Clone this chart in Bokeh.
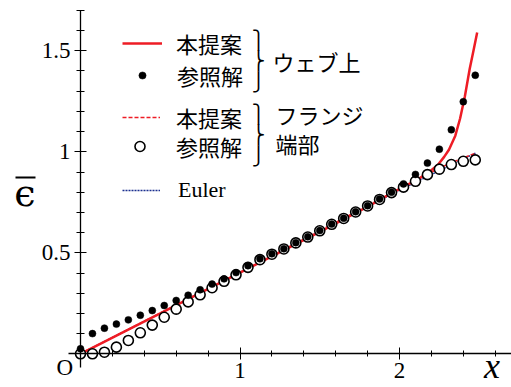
from bokeh.plotting import figure
from bokeh.models import (LinearAxis, FixedTicker, Label, Legend, LegendItem,
                          BoxAnnotation, Range1d)
from bokeh.embed import file_html
from bokeh.resources import INLINE

# ---------------- data ----------------
x_ref = [0.0, 0.075, 0.15, 0.225, 0.3, 0.375, 0.45, 0.525, 0.6, 0.675, 0.75, 0.825,
         0.9, 0.975, 1.05, 1.125, 1.2, 1.275, 1.35, 1.425, 1.5, 1.575, 1.65, 1.725,
         1.8, 1.875, 1.95, 2.025, 2.1, 2.175, 2.25, 2.325, 2.4, 2.475]
web_ref = [0.025, 0.100, 0.127, 0.147, 0.168, 0.191, 0.214, 0.239, 0.264, 0.290,
           0.317, 0.345, 0.371, 0.402, 0.436, 0.470, 0.495, 0.520, 0.550, 0.579,
           0.610, 0.642, 0.671, 0.703, 0.733, 0.766, 0.800, 0.841, 0.888, 0.944,
           1.013, 1.109, 1.248, 1.379]
flange_ref = [0.0, 0.0, 0.008, 0.033, 0.066, 0.104, 0.142, 0.181, 0.221, 0.257,
              0.292, 0.327, 0.359, 0.391, 0.428, 0.466, 0.493, 0.519, 0.549, 0.578,
              0.609, 0.641, 0.670, 0.702, 0.732, 0.764, 0.798, 0.825, 0.854, 0.887,
              0.914, 0.937, 0.953, 0.960]

x_web = [0.0, 0.5, 1.0, 1.5, 1.8, 1.95, 2.04, 2.12, 2.18, 2.24, 2.28, 2.31, 2.35,
         2.38, 2.41, 2.44, 2.465, 2.487]
y_web = [0.0, 0.2, 0.402, 0.604, 0.728, 0.795, 0.833, 0.866, 0.897, 0.935, 0.975,
         1.01, 1.08, 1.165, 1.275, 1.41, 1.505, 1.59]

x_flange = [0.0, 1.0, 1.95, 2.025, 2.1, 2.175, 2.25, 2.325, 2.4, 2.477]
y_flange = [0.0, 0.402, 0.795, 0.826, 0.857, 0.889, 0.919, 0.946, 0.970, 0.993]

x_euler = [0.0, 1.0, 2.0, 2.48]
y_euler = [0.0, 0.402, 0.81, 0.995]

x_ticks = [1, 2]
x_minor = [0.2, 0.4, 0.6, 0.8, 1.2, 1.4, 1.6, 1.8, 2.2, 2.4, 2.6]
y_ticks = [0.5, 1, 1.5]
y_tick_labels = {0.5: "0.5", 1: "1", 1.5: "1.5"}
y_minor = [0.1, 0.2, 0.3, 0.4, 0.6, 0.7, 0.8, 0.9, 1.1, 1.2, 1.3, 1.4, 1.6, 1.7]

legend_labels = ["本提案", "参照解", "本提案", "参照解", "Euler"]
group_labels = ["ウェブ上", "フランジ", "端部"]

RED = "#ee1c25"
BLUE = "#1a2f8f"
SERIF = "Liberation Serif"
CJK = "Noto Sans CJK JP"

W, H = 511, 387
p = figure(width=W, height=H, output_backend="svg", toolbar_location=None,
           x_range=Range1d(-0.5016, 2.7022), y_range=Range1d(-0.1668, 1.749),
           x_axis_location=None, y_axis_location=None, min_border=0,
           outline_line_color=None, background_fill_color="white",
           border_fill_color="white")
p.grid.visible = False

xaxis = LinearAxis(ticker=FixedTicker(ticks=x_ticks, minor_ticks=x_minor),
                   fixed_location=0, bounds=(-0.075, 2.75),
                   major_tick_in=6, major_tick_out=6, minor_tick_in=3, minor_tick_out=3,
                   axis_line_color="black", axis_line_width=1.3,
                   major_tick_line_color="black", minor_tick_line_color="black",
                   major_label_text_font=SERIF, major_label_text_font_size="23px",
                   major_label_text_color="black", major_label_standoff=3)
p.add_layout(xaxis, "below")

yaxis = LinearAxis(ticker=FixedTicker(ticks=y_ticks, minor_ticks=y_minor),
                   fixed_location=0, bounds=(-0.066, 1.7),
                   major_tick_in=6, major_tick_out=6, minor_tick_in=4, minor_tick_out=4,
                   axis_line_color="black", axis_line_width=1.3,
                   major_tick_line_color="black", minor_tick_line_color="black",
                   major_label_text_font=SERIF, major_label_text_font_size="23px",
                   major_label_text_color="black", major_label_standoff=4,
                   major_label_overrides=y_tick_labels)
p.add_layout(yaxis, "left")

r_euler = p.line(x_euler, y_euler, line_color=BLUE, line_width=1.4, line_dash="2 1")
r_flange = p.line(x_flange, y_flange, line_color=RED, line_width=1.6, line_dash="4 2")
r_web = p.line(x_web, y_web, line_color=RED, line_width=2.5)
r_fref = p.scatter(x_ref, flange_ref, size=10, marker="circle", fill_color="white",
                   line_color="black", line_width=1.6)
r_wref = p.scatter(x_ref, web_ref, size=7, marker="circle", fill_color="black",
                   line_color="black", line_width=0.5)


def add_legend(label, rend, left, cy, gw, standoff, font):
    lg = Legend(items=[LegendItem(label=label, renderers=[rend])],
                location=(left, 367 - cy), padding=0, margin=0, spacing=0,
                border_line_color=None, background_fill_alpha=0,
                glyph_width=gw, glyph_height=40, label_height=40, label_width=10,
                label_standoff=standoff, label_text_font=font,
                label_text_font_size="22px", label_text_color="black")
    p.add_layout(lg)


add_legend(legend_labels[0], r_web, 122, 43, 40, 14, CJK)
add_legend(legend_labels[1], r_wref, 133, 75, 18, 26, CJK)
add_legend(legend_labels[2], r_flange, 122, 117, 38, 16, CJK)
add_legend(legend_labels[3], r_fref, 127, 146, 25, 24, CJK)
add_legend(legend_labels[4], r_euler, 122, 190, 38, 18, SERIF)


def add_label(text, px, py, font, size, align="left", baseline="middle",
              style="normal", line_height=1.2):
    p.add_layout(Label(x=px, y=H - py, x_units="screen", y_units="screen", text=text,
                       text_font=font, text_font_size=size, text_align=align,
                       text_baseline=baseline, text_font_style=style,
                       text_line_height=line_height, text_color="black"))


add_label("⎫\n⎬\n⎭", 258, 60, "DejaVu Sans", "18px", align="center", line_height=1.0)
add_label("⎫\n⎬\n⎭", 258, 134, "DejaVu Sans", "18px", align="center", line_height=1.0)
add_label(group_labels[0], 272, 60, CJK, "22px")
add_label(group_labels[1], 275, 113, CJK, "22px")
add_label(group_labels[2], 275, 142, CJK, "22px")
add_label("O", 72.5, 366.5, SERIF, "23px", align="right", baseline="alphabetic")
add_label("x", 491.5, 365, SERIF, "36px", align="center", baseline="alphabetic",
          style="italic")
add_label("ϵ", 24.5, 192, "DejaVu Serif", "38px", align="center", baseline="alphabetic")
p.add_layout(BoxAnnotation(left=15, right=35, bottom=H - 178, top=H - 176,
                           left_units="screen", right_units="screen",
                           bottom_units="screen", top_units="screen",
                           fill_color="black", fill_alpha=1, line_color=None))

open("out.html", "w").write(file_html(p, INLINE))
